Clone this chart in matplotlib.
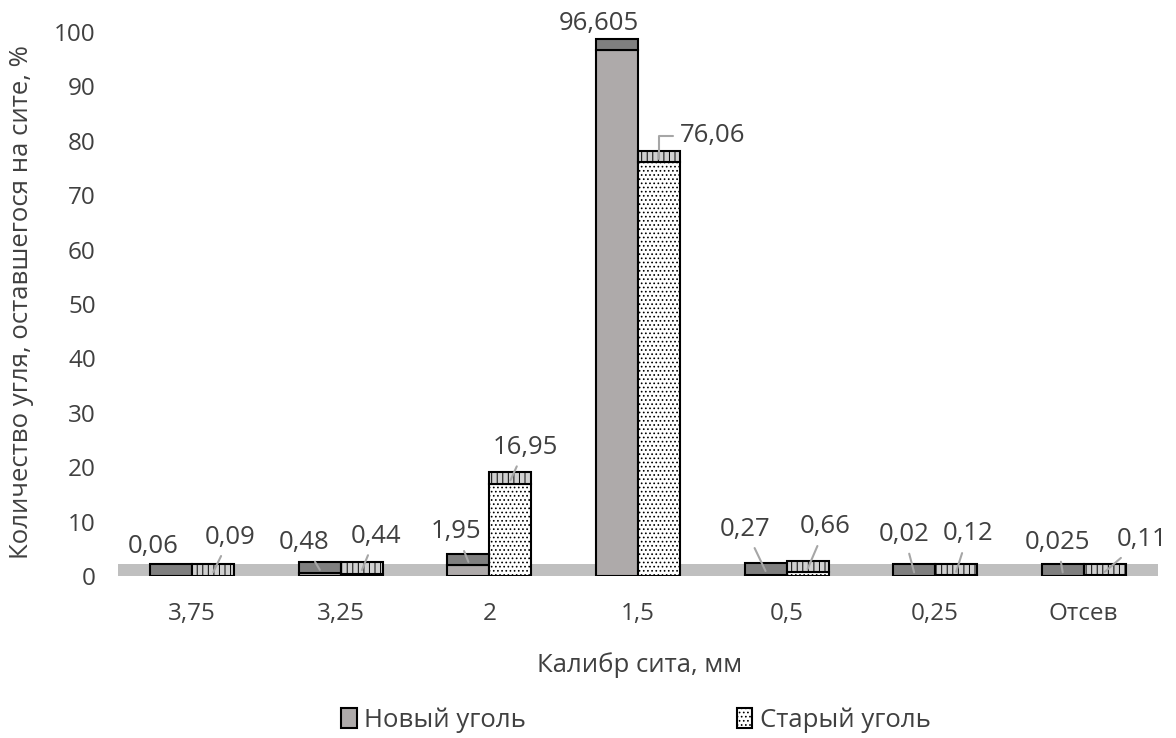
import matplotlib.pyplot as plt
from matplotlib.patches import Rectangle
import numpy as np

categories = ["3,75", "3,25", "2", "1,5", "0,5", "0,25", "Отсев"]
new_coal = [0.06, 0.48, 1.95, 96.605, 0.27, 0.02, 0.025]
old_coal = [0.09, 0.44, 16.95, 76.06, 0.66, 0.12, 0.11]
new_labels = ["0,06", "0,48", "1,95", "96,605", "0,27", "0,02", "0,025"]
old_labels = ["0,09", "0,44", "16,95", "76,06", "0,66", "0,12", "0,11"]

# label offsets in pixels (dx, dy) from the top of each bar, and whether a leader is drawn
new_off = [(-18, 21), (-16, 22), (-12, 25), (-18, 18), (-20, 37), (-10, 33), (-5, 25)]
old_off = [(17, 30), (14, 29), (15, 28), (54, 18), (18, 37), (12, 33), (37, 27)]
new_lead = [False, True, True, False, True, True, True]
old_lead = [True, True, True, True, True, True, True]

plt.rcParams["font.family"] = ["Open Sans", "DejaVu Sans"]
plt.rcParams["hatch.linewidth"] = 0.7
txt = "#404040"

fig = plt.figure(figsize=(11.76, 7.38), dpi=100)
ax = fig.add_axes([118 / 1176, 1 - 576 / 738, 1040 / 1176, 544 / 738])

x = np.arange(len(categories))
w = 0.283
d = 2.15  # depth of the 3d top face / floor

ax.add_patch(Rectangle((-0.5, 0), 7.02, d, color="#bfbfbf", lw=0, zorder=1))

# front faces
ax.bar(x - w / 2, new_coal, w, color="#aeaaaa", edgecolor="black", lw=1.5, zorder=2)
ax.bar(x + w / 2, old_coal, w, color="white", edgecolor="black", lw=1.5,
       hatch="....", zorder=2)
# top faces
ax.bar(x - w / 2, [d] * len(x), w, bottom=new_coal, color="#7f7f7f",
       edgecolor="black", lw=1.5, zorder=2)
ax.bar(x + w / 2, [d] * len(x), w, bottom=old_coal, color="#d0d0d0",
       edgecolor="black", lw=1.5, hatch="|||", zorder=2)


def put_labels(xs, vals, labels, offs, leads):
    for xi, v, lab, (dx, dy), lead in zip(xs, vals, labels, offs, leads):
        conn = "arc3"
        if v > 50 and dx > 40:
            conn = "angle,angleA=0,angleB=90,rad=0"
        ax.annotate(lab, xy=(xi, v + 0.3 * d), xytext=(dx, dy + 5),
                    textcoords="offset pixels", ha="center", va="center",
                    fontsize=18.5, color=txt, zorder=4, annotation_clip=False,
                    arrowprops=dict(arrowstyle="-", color="#a6a6a6", lw=1.5,
                                    shrinkA=3, shrinkB=0, connectionstyle=conn)
                    if lead else None)


put_labels(x - w / 2, new_coal, new_labels, new_off, new_lead)
put_labels(x + w / 2, old_coal, old_labels, old_off, old_lead)

ax.set_xlim(-0.5, 6.5)
ax.set_ylim(0, 100)
ax.set_yticks(range(0, 101, 10))
ax.set_xticks(x)
ax.set_xticklabels(categories)
ax.tick_params(axis="both", length=0, labelsize=17.5, labelcolor=txt)
ax.tick_params(axis="y", pad=16)
ax.tick_params(axis="x", pad=19)
for s in ax.spines.values():
    s.set_visible(False)

fig.text(640 / 1176, 1 - 665 / 738, "Калибр сита, мм", ha="center", va="center",
         fontsize=18.5, color=txt)
fig.text(22 / 1176, 1 - 302 / 738, "Количество угля, оставшегося на сите, %",
         ha="center", va="center", rotation=90, fontsize=18.5, color=txt)

h1 = Rectangle((0, 0), 1, 1, facecolor="#aeaaaa", edgecolor="black", lw=1.5)
h2 = Rectangle((0, 0), 1, 1, facecolor="white", edgecolor="black", lw=1.5, hatch="....")
fig.legend([h1, h2], ["Новый уголь", "Старый уголь"], loc="center",
           bbox_to_anchor=(636 / 1176, 1 - 720 / 738), ncol=2, frameon=False,
           fontsize=18.5, labelcolor=txt, handlelength=0.6, handleheight=0.8,
           handletextpad=0.3, columnspacing=8.2)

fig.savefig("out.png", dpi=100)
